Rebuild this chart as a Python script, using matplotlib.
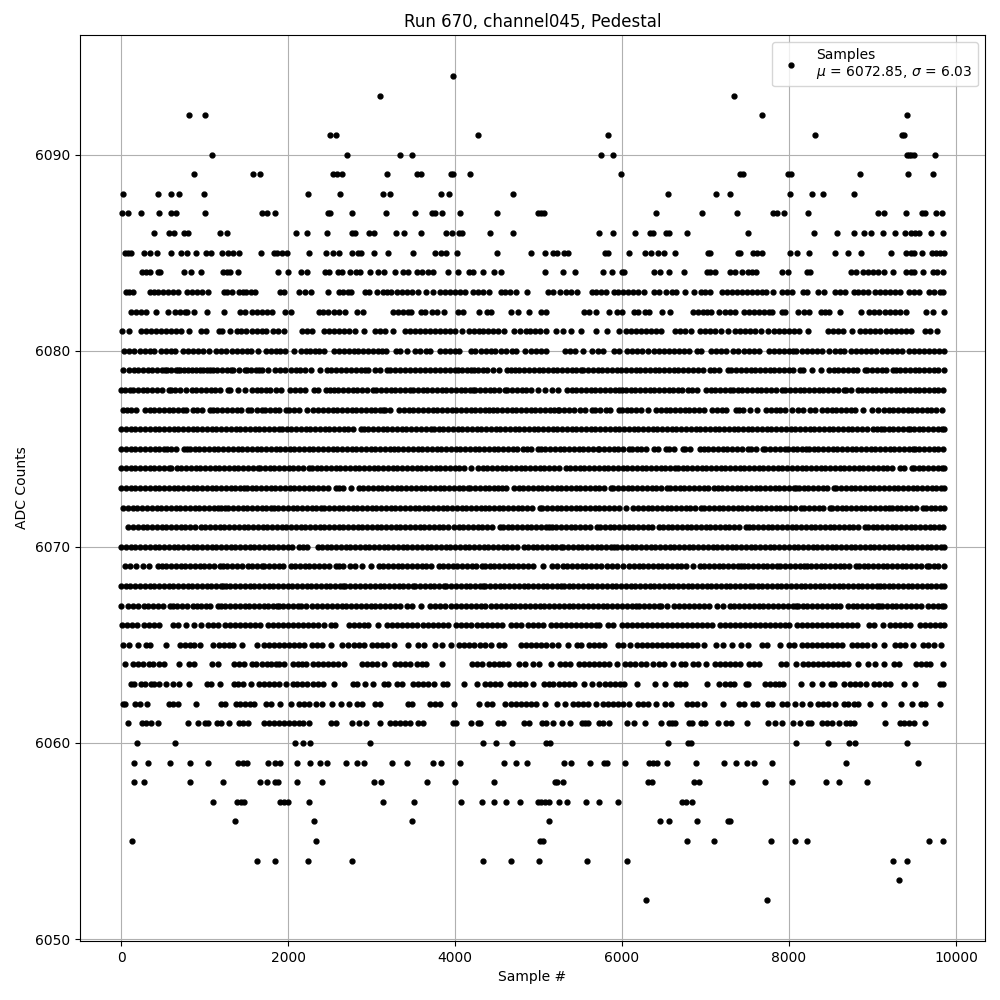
import matplotlib
matplotlib.use("Agg")
import matplotlib.pyplot as plt

title = "Run 670, channel045, Pedestal"
mean_counts = 6072.85
sigma_counts = 6.03

s6052 = [6288, 7740]
s6053 = [9312]
s6054 = [1628, 1844, 2240, 2768, 4340, 4664, 5004, 5580, 6060, 9240, 9408]
s6055 = [128, 2336, 5020, 5050, 6780, 7104, 7788, 8076, 8220, 9672, 9840]
s6056 = [1364, 2312, 3488, 5124, 6456, 6564, 6900, 7272, 7296]
s6057 = [1100, 1388, 1436, 1468, 1904, 1952, 2000, 2252, 3140, 3512, 4076, 4328, 4472, 4616, 4772, 4988, 5028, 5080, 5124, 5244, 5340, 5568, 5724, 5952, 6720, 6768, 6840]
s6058 = [152, 272, 824, 1220, 1664, 1748, 1844, 1880, 2108, 2408, 3032, 3116, 3668, 4004, 4472, 5196, 5220, 5292, 6312, 6360, 6864, 6924, 7716, 8040, 8448, 8604, 8940]
s6059 = [152, 320, 584, 824, 1040, 1400, 1460, 1512, 1760, 1840, 1904, 2108, 2264, 2384, 2468, 2696, 2828, 2912, 3248, 3428, 3740, 3836, 4064, 4592, 4724, 4856, 5304, 5388, 5616, 5784, 5820, 6036, 6324, 6372, 6420, 6540, 6888, 7224, 7368, 7500, 7584, 7800, 8688, 9540]
s6060 = [188, 644, 2084, 2180, 2264, 2984, 4340, 4496, 4676, 5092, 5140, 6552, 6792, 6828, 8088, 8472, 8724, 8796, 9408]
s6061 = [80, 248, 300, 360, 440, 800, 920, 1004, 1040, 1148, 1200, 1292, 1412, 1460, 1520, 1712, 1772, 1832, 1892, 1952, 2012, 2072, 2132, 2180, 2252, 2516, 2576, 2760, 2852, 2936, 3104, 3224, 3284, 3344, 3404, 3464, 3560, 3620, 3980, 4016, 4196, 4280, 4304, 4520, 4580, 4820, 4880, 5036, 5084, 5172, 5280, 5376, 5520, 5560, 5592, 5724, 5772, 5844, 6060, 6144, 6276, 6468, 6564, 6600, 6636, 6804, 6840, 6948, 6996, 7152, 7248, 7308, 7500, 7752, 7836, 7920, 8052, 8136, 8232, 8268, 8400, 8460, 8520, 8604, 8688, 8736, 8784, 9144, 9324, 9372, 9432, 9492, 9632]
s6062 = [20, 52, 172, 228, 308, 572, 620, 680, 896, 1196, 1244, 1376, 1424, 1484, 1544, 1592, 1736, 1796, 1904, 2036, 2132, 2192, 2252, 2336, 2408, 2528, 2636, 2732, 2828, 2888, 3044, 3104, 3440, 3488, 3704, 3764, 3824, 3992, 4292, 4388, 4448, 4604, 4664, 4724, 4784, 4844, 4904, 4964, 5076, 5220, 5316, 5412, 5472, 5532, 5592, 5688, 5772, 5832, 5892, 5952, 6012, 6084, 6192, 6252, 6312, 6408, 6516, 6588, 6780, 6840, 6900, 6984, 7212, 7404, 7464, 7572, 7620, 7752, 7800, 7920, 7980, 8072, 8160, 8256, 8352, 8412, 8472, 8556, 8664, 8712, 8784, 8832, 8976, 9132, 9336, 9468, 9576, 9624, 9804]
s6063 = [120, 160, 240, 288, 360, 392, 452, 536, 620, 692, 812, 1028, 1076, 1184, 1352, 1400, 1460, 1556, 1652, 1712, 1772, 1832, 1892, 1976, 2060, 2108, 2168, 2228, 2300, 2360, 2420, 2552, 2780, 2828, 2924, 3020, 3152, 3200, 3308, 3368, 3500, 3560, 3620, 3680, 3752, 3860, 3908, 4112, 4268, 4364, 4424, 4484, 4544, 4652, 4712, 4772, 4832, 4928, 5060, 5120, 5172, 5244, 5304, 5364, 5424, 5544, 5640, 5724, 5796, 5856, 5916, 5976, 6024, 6184, 6396, 6516, 6648, 6696, 6756, 7020, 7164, 7236, 7296, 7344, 7488, 7512, 7716, 7776, 7836, 7884, 7932, 8148, 8280, 8400, 8508, 8544, 8664, 8736, 8796, 8856, 8928, 9024, 9084, 9144, 9204, 9372, 9504, 9804, 9850]
s6064 = [52, 140, 200, 260, 332, 380, 452, 512, 692, 812, 872, 1088, 1160, 1352, 1412, 1472, 1568, 1616, 1688, 1748, 1796, 1856, 1892, 1952, 2060, 2120, 2168, 2216, 2300, 2360, 2420, 2480, 2540, 2600, 2672, 2888, 2948, 3008, 3068, 3152, 3284, 3344, 3404, 3464, 3548, 3608, 3656, 3848, 4208, 4268, 4328, 4412, 4472, 4532, 4580, 4640, 4760, 4832, 4928, 5000, 5152, 5260, 5320, 5380, 5484, 5544, 5604, 5664, 5724, 5784, 5844, 5940, 6036, 6096, 6156, 6228, 6288, 6372, 6444, 6504, 6612, 6708, 6756, 6852, 6912, 7008, 7116, 7176, 7236, 7296, 7356, 7416, 7524, 7580, 7644, 7908, 7968, 8088, 8172, 8232, 8292, 8352, 8412, 8472, 8532, 8592, 8652, 8712, 8832, 8952, 9036, 9132, 9252, 9312, 9516, 9576, 9636, 9692, 9840]
s6065 = [28, 92, 200, 292, 340, 536, 704, 760, 820, 868, 940, 1100, 1172, 1232, 1292, 1340, 1448, 1628, 1712, 1772, 1832, 1892, 1952, 2012, 2072, 2132, 2192, 2284, 2348, 2408, 2516, 2648, 2720, 2792, 2852, 2912, 3008, 3068, 3128, 3188, 3272, 3440, 3560, 3632, 3764, 3848, 3956, 4052, 4112, 4172, 4232, 4304, 4364, 4436, 4532, 4592, 4788, 4848, 4908, 4968, 5028, 5088, 5160, 5232, 5352, 5460, 5508, 5604, 5664, 5724, 5784, 5952, 6012, 6096, 6180, 6240, 6300, 6360, 6420, 6480, 6540, 6600, 6660, 6720, 6780, 6840, 6900, 6984, 7128, 7212, 7320, 7428, 7512, 7680, 7740, 7896, 8004, 8064, 8160, 8220, 8280, 8340, 8400, 8460, 8520, 8580, 8640, 8760, 8820, 8880, 8940, 9024, 9132, 9264, 9324, 9384, 9480, 9600, 9660, 9732, 9824]
s6066 = [12, 72, 128, 188, 272, 332, 392, 452, 620, 680, 780, 872, 956, 1040, 1100, 1160, 1244, 1304, 1364, 1424, 1484, 1544, 1604, 1664, 1760, 1820, 1880, 1940, 2000, 2060, 2120, 2180, 2240, 2300, 2360, 2432, 2516, 2564, 2732, 2792, 2852, 2912, 2960, 3080, 3188, 3248, 3308, 3368, 3428, 3488, 3548, 3620, 3680, 3740, 3800, 3860, 3920, 4016, 4076, 4136, 4196, 4268, 4328, 4388, 4448, 4508, 4568, 4664, 4724, 4784, 4868, 4928, 4988, 5048, 5152, 5212, 5272, 5332, 5392, 5452, 5512, 5572, 5632, 5692, 5724, 5832, 5892, 6000, 6060, 6120, 6180, 6240, 6300, 6360, 6420, 6480, 6540, 6600, 6660, 6720, 6780, 6840, 6900, 6960, 7020, 7080, 7176, 7236, 7296, 7356, 7416, 7476, 7536, 7596, 7656, 7716, 7776, 7836, 7896, 7956, 8004, 8092, 8152, 8212, 8272, 8332, 8392, 8452, 8512, 8572, 8632, 8692, 8752, 8820, 8964, 9024, 9120, 9204, 9264, 9324, 9384, 9444, 9564, 9624, 9684, 9744, 9804, 9852]
s6067 = [0, 84, 140, 204, 276, 324, 380, 436, 496, 584, 616, 672, 728, 790, 864, 904, 960, 1012, 1070, 1156, 1192, 1250, 1306, 1362, 1420, 1478, 1534, 1592, 1648, 1706, 1762, 1820, 1864, 1888, 1944, 2002, 2060, 2118, 2156, 2220, 2292, 2350, 2408, 2466, 2524, 2582, 2640, 2698, 2756, 2814, 2872, 2930, 2988, 3046, 3104, 3162, 3220, 3278, 3344, 3424, 3482, 3596, 3704, 3762, 3820, 3878, 3956, 4016, 4074, 4132, 4190, 4248, 4316, 4360, 4432, 4490, 4548, 4606, 4664, 4722, 4780, 4838, 4896, 4954, 5012, 5070, 5128, 5186, 5244, 5302, 5360, 5418, 5476, 5534, 5592, 5650, 5708, 5766, 5824, 5882, 5940, 5998, 6056, 6114, 6168, 6208, 6266, 6324, 6382, 6440, 6472, 6540, 6628, 6686, 6744, 6802, 6860, 6918, 6976, 7044, 7132, 7204, 7288, 7346, 7404, 7462, 7520, 7578, 7636, 7694, 7752, 7810, 7868, 7926, 7984, 8042, 8080, 8104, 8162, 8220, 8278, 8336, 8394, 8452, 8510, 8568, 8608, 8704, 8762, 8820, 8878, 8936, 8994, 9052, 9080, 9112, 9170, 9228, 9286, 9344, 9402, 9460, 9518, 9576, 9664, 9722, 9780, 9838, 9855]
s6068 = [0, 56, 112, 170, 226, 284, 340, 398, 454, 512, 568, 626, 682, 740, 796, 854, 910, 968, 1024, 1082, 1138, 1196, 1226, 1252, 1310, 1366, 1424, 1480, 1538, 1594, 1652, 1708, 1766, 1822, 1880, 1936, 1994, 2050, 2108, 2164, 2222, 2278, 2336, 2392, 2450, 2506, 2564, 2620, 2656, 2684, 2742, 2798, 2864, 2924, 2982, 3038, 3096, 3152, 3210, 3266, 3324, 3380, 3438, 3496, 3524, 3582, 3638, 3696, 3752, 3810, 3866, 3896, 3956, 4014, 4070, 4128, 4184, 4242, 4298, 4336, 4364, 4422, 4478, 4536, 4592, 4650, 4706, 4764, 4820, 4878, 4934, 4992, 5048, 5106, 5162, 5220, 5268, 5304, 5360, 5418, 5474, 5532, 5588, 5646, 5702, 5760, 5816, 5874, 5930, 5988, 6044, 6102, 6158, 6216, 6272, 6330, 6386, 6444, 6500, 6558, 6614, 6672, 6728, 6786, 6842, 6900, 6956, 7014, 7070, 7128, 7184, 7242, 7298, 7356, 7412, 7470, 7528, 7568, 7626, 7682, 7740, 7796, 7854, 7910, 7968, 8024, 8082, 8138, 8196, 8252, 8310, 8366, 8424, 8480, 8538, 8594, 8652, 8708, 8766, 8822, 8880, 8936, 8994, 9050, 9096, 9136, 9194, 9250, 9308, 9364, 9422, 9478, 9536, 9592, 9650, 9706, 9764, 9820, 9855]
s6069 = [44, 112, 184, 264, 330, 436, 484, 542, 598, 656, 712, 770, 826, 884, 940, 998, 1054, 1112, 1184, 1216, 1274, 1330, 1388, 1444, 1516, 1564, 1628, 1688, 1716, 1774, 1830, 1888, 1944, 2036, 2084, 2142, 2198, 2256, 2312, 2370, 2426, 2484, 2568, 2604, 2662, 2736, 2800, 2884, 2996, 3084, 3142, 3198, 3256, 3312, 3370, 3426, 3484, 3540, 3598, 3654, 3712, 3808, 3856, 3914, 3970, 4028, 4084, 4142, 4198, 4256, 4328, 4356, 4414, 4470, 4528, 4584, 4642, 4698, 4756, 4812, 4876, 4932, 5056, 5156, 5220, 5288, 5344, 5402, 5458, 5516, 5572, 5630, 5686, 5752, 5824, 5882, 5940, 6016, 6084, 6142, 6198, 6256, 6312, 6370, 6426, 6484, 6540, 6598, 6654, 6712, 6768, 6848, 6928, 6986, 7042, 7100, 7156, 7214, 7270, 7328, 7384, 7420, 7456, 7514, 7570, 7628, 7684, 7742, 7798, 7856, 7896, 7956, 8014, 8070, 8128, 8184, 8220, 8264, 8322, 8378, 8436, 8492, 8550, 8606, 8664, 8720, 8800, 8836, 8894, 8950, 9008, 9064, 9122, 9178, 9236, 9292, 9350, 9406, 9464, 9520, 9578, 9648, 9676, 9734, 9790, 9852]
s6070 = [0, 58, 114, 172, 228, 286, 342, 400, 456, 514, 570, 628, 684, 742, 798, 856, 912, 970, 1026, 1084, 1140, 1198, 1254, 1312, 1368, 1426, 1482, 1540, 1596, 1654, 1710, 1768, 1824, 1882, 1938, 1996, 2052, 2136, 2176, 2232, 2364, 2404, 2462, 2518, 2576, 2632, 2690, 2746, 2804, 2860, 2918, 2974, 3032, 3088, 3146, 3202, 3260, 3316, 3374, 3430, 3488, 3544, 3602, 3658, 3716, 3772, 3830, 3886, 3944, 4000, 4058, 4114, 4172, 4228, 4286, 4342, 4400, 4456, 4514, 4570, 4628, 4684, 4742, 4824, 4872, 4930, 4986, 5044, 5100, 5158, 5214, 5268, 5296, 5354, 5410, 5468, 5524, 5582, 5638, 5696, 5752, 5810, 5866, 5908, 5944, 6002, 6058, 6116, 6172, 6230, 6286, 6344, 6400, 6458, 6514, 6572, 6628, 6686, 6742, 6800, 6856, 6914, 6970, 7028, 7084, 7142, 7198, 7256, 7312, 7370, 7426, 7484, 7540, 7598, 7654, 7712, 7768, 7826, 7882, 7940, 7996, 8054, 8110, 8168, 8224, 8282, 8338, 8396, 8452, 8510, 8566, 8624, 8680, 8738, 8794, 8852, 8908, 8966, 9022, 9080, 9136, 9194, 9250, 9308, 9364, 9422, 9478, 9536, 9592, 9650, 9706, 9764, 9820, 9855]
s6071 = [84, 142, 198, 256, 312, 370, 426, 484, 540, 598, 654, 712, 768, 826, 888, 952, 1010, 1066, 1124, 1180, 1238, 1294, 1352, 1408, 1466, 1522, 1580, 1636, 1694, 1750, 1808, 1864, 1922, 1978, 2036, 2092, 2150, 2206, 2264, 2320, 2378, 2434, 2492, 2548, 2606, 2662, 2720, 2776, 2834, 2890, 2948, 3004, 3062, 3118, 3176, 3232, 3290, 3346, 3404, 3460, 3518, 3574, 3632, 3688, 3746, 3802, 3860, 3916, 3984, 4042, 4098, 4156, 4212, 4270, 4326, 4384, 4440, 4536, 4572, 4630, 4686, 4744, 4800, 4858, 4914, 4972, 5028, 5086, 5128, 5156, 5214, 5270, 5328, 5384, 5442, 5498, 5556, 5612, 5696, 5736, 5794, 5850, 5908, 5964, 6022, 6078, 6136, 6192, 6250, 6306, 6364, 6440, 6488, 6546, 6602, 6660, 6716, 6774, 6830, 6888, 6944, 7002, 7058, 7116, 7172, 7230, 7286, 7344, 7400, 7480, 7516, 7574, 7630, 7688, 7744, 7802, 7858, 7916, 7972, 8030, 8086, 8144, 8200, 8258, 8314, 8372, 8428, 8486, 8542, 8600, 8656, 8714, 8770, 8828, 8908, 8944, 9002, 9058, 9116, 9172, 9230, 9286, 9344, 9400, 9458, 9514, 9572, 9628, 9686, 9742, 9800, 9850]
s6072 = [24, 82, 138, 196, 252, 310, 366, 424, 480, 538, 594, 652, 708, 766, 822, 880, 936, 994, 1050, 1108, 1164, 1196, 1240, 1284, 1342, 1398, 1456, 1512, 1570, 1626, 1684, 1740, 1798, 1836, 1884, 1942, 1998, 2056, 2112, 2170, 2226, 2284, 2340, 2396, 2432, 2490, 2546, 2604, 2660, 2716, 2772, 2830, 2886, 2944, 3000, 3058, 3114, 3172, 3228, 3286, 3342, 3400, 3456, 3516, 3564, 3622, 3678, 3736, 3792, 3850, 3906, 3964, 4020, 4078, 4134, 4192, 4248, 4306, 4362, 4408, 4464, 4522, 4578, 4636, 4692, 4750, 4806, 4864, 4920, 5016, 5044, 5102, 5158, 5216, 5272, 5330, 5386, 5444, 5500, 5558, 5614, 5672, 5728, 5786, 5842, 5900, 5968, 6052, 6136, 6194, 6250, 6308, 6364, 6422, 6478, 6536, 6592, 6650, 6706, 6764, 6820, 6878, 6948, 6984, 7042, 7098, 7156, 7212, 7270, 7326, 7384, 7440, 7498, 7554, 7612, 7668, 7726, 7782, 7840, 7896, 7954, 8010, 8068, 8148, 8184, 8242, 8298, 8356, 8412, 8488, 8516, 8574, 8630, 8688, 8744, 8802, 8858, 8916, 8972, 9030, 9086, 9144, 9200, 9232, 9290, 9346, 9404, 9460, 9518, 9608, 9640, 9698, 9754, 9812, 9855]
s6073 = [0, 58, 114, 172, 228, 286, 342, 400, 456, 514, 570, 628, 684, 742, 798, 856, 912, 970, 1026, 1084, 1140, 1198, 1254, 1312, 1368, 1426, 1476, 1504, 1562, 1618, 1676, 1732, 1790, 1846, 1904, 1960, 2018, 2074, 2132, 2188, 2246, 2302, 2360, 2416, 2474, 2576, 2604, 2662, 2756, 2844, 2902, 2958, 3016, 3072, 3130, 3186, 3244, 3300, 3358, 3414, 3472, 3528, 3586, 3642, 3700, 3756, 3814, 3870, 3928, 3984, 4042, 4098, 4156, 4184, 4242, 4298, 4356, 4412, 4470, 4516, 4564, 4616, 4704, 4762, 4818, 4876, 4932, 4990, 5046, 5104, 5160, 5218, 5274, 5332, 5388, 5446, 5502, 5560, 5616, 5674, 5730, 5788, 5868, 5896, 5954, 6010, 6068, 6124, 6182, 6240, 6296, 6354, 6410, 6468, 6536, 6576, 6634, 6690, 6748, 6804, 6862, 6918, 6976, 7032, 7096, 7144, 7202, 7258, 7316, 7372, 7430, 7486, 7544, 7600, 7658, 7714, 7772, 7828, 7886, 7942, 8000, 8056, 8088, 8116, 8174, 8230, 8288, 8344, 8402, 8458, 8536, 8568, 8626, 8682, 8740, 8796, 8854, 8910, 8968, 9024, 9082, 9138, 9196, 9252, 9310, 9366, 9424, 9480, 9538, 9594, 9652, 9708, 9766, 9822, 9855]
s6074 = [0, 56, 114, 170, 228, 284, 342, 398, 456, 512, 576, 600, 664, 720, 778, 834, 892, 948, 1006, 1062, 1120, 1176, 1234, 1290, 1348, 1404, 1462, 1518, 1576, 1636, 1664, 1722, 1778, 1836, 1892, 1950, 2006, 2064, 2120, 2178, 2256, 2284, 2342, 2398, 2456, 2512, 2570, 2626, 2684, 2740, 2798, 2854, 2912, 2968, 3026, 3082, 3140, 3196, 3254, 3310, 3368, 3424, 3482, 3538, 3596, 3652, 3710, 3766, 3824, 3880, 3938, 3994, 4052, 4108, 4196, 4272, 4330, 4386, 4444, 4500, 4558, 4614, 4672, 4728, 4786, 4842, 4900, 4956, 5014, 5070, 5128, 5184, 5242, 5328, 5380, 5436, 5494, 5550, 5608, 5664, 5722, 5778, 5836, 5892, 5950, 6006, 6064, 6120, 6178, 6234, 6292, 6348, 6406, 6462, 6520, 6576, 6636, 6668, 6726, 6782, 6840, 6896, 6954, 7010, 7068, 7124, 7182, 7238, 7296, 7352, 7410, 7466, 7524, 7580, 7638, 7694, 7752, 7808, 7866, 7922, 7980, 8036, 8094, 8150, 8208, 8264, 8322, 8378, 8436, 8492, 8550, 8606, 8664, 8720, 8778, 8834, 8892, 8948, 9006, 9062, 9120, 9176, 9234, 9328, 9376, 9468, 9496, 9554, 9610, 9668, 9724, 9782, 9838, 9855]
s6075 = [0, 58, 114, 172, 228, 286, 342, 400, 456, 516, 544, 602, 656, 756, 788, 824, 882, 938, 996, 1052, 1110, 1166, 1224, 1280, 1338, 1394, 1452, 1508, 1566, 1622, 1680, 1736, 1794, 1856, 1904, 1962, 2018, 2076, 2132, 2190, 2246, 2304, 2360, 2418, 2474, 2532, 2588, 2646, 2702, 2760, 2816, 2874, 2930, 2988, 3044, 3102, 3158, 3216, 3264, 3322, 3378, 3436, 3492, 3550, 3606, 3664, 3720, 3778, 3834, 3892, 3948, 4006, 4062, 4116, 4176, 4234, 4290, 4348, 4404, 4462, 4518, 4576, 4632, 4690, 4746, 4816, 4856, 4914, 4988, 5024, 5082, 5138, 5196, 5252, 5310, 5366, 5424, 5480, 5538, 5594, 5652, 5708, 5728, 5786, 5842, 5900, 5956, 6014, 6080, 6116, 6174, 6230, 6288, 6388, 6436, 6528, 6568, 6626, 6728, 6756, 6814, 6928, 6976, 7034, 7090, 7148, 7204, 7262, 7318, 7376, 7432, 7508, 7544, 7602, 7688, 7716, 7774, 7830, 7888, 7948, 7984, 8042, 8098, 8156, 8208, 8236, 8294, 8350, 8408, 8464, 8522, 8578, 8636, 8692, 8750, 8806, 8864, 8920, 8978, 9034, 9092, 9148, 9206, 9262, 9320, 9376, 9434, 9480, 9504, 9562, 9618, 9676, 9732, 9790, 9846]
s6076 = [0, 58, 116, 172, 230, 286, 344, 400, 458, 514, 572, 628, 686, 742, 800, 856, 914, 970, 1028, 1084, 1142, 1198, 1256, 1312, 1370, 1426, 1484, 1540, 1598, 1654, 1712, 1768, 1826, 1896, 1924, 1982, 2038, 2096, 2152, 2210, 2266, 2324, 2380, 2438, 2494, 2552, 2608, 2666, 2722, 2780, 2876, 2904, 2962, 3018, 3076, 3132, 3190, 3246, 3304, 3360, 3418, 3474, 3532, 3588, 3646, 3716, 3744, 3802, 3858, 3916, 3972, 4030, 4086, 4144, 4200, 4258, 4314, 4372, 4428, 4486, 4542, 4600, 4656, 4714, 4770, 4828, 4884, 4942, 4998, 5056, 5112, 5170, 5226, 5284, 5340, 5398, 5454, 5512, 5568, 5626, 5682, 5740, 5796, 5854, 5910, 5968, 6024, 6082, 6138, 6196, 6252, 6310, 6366, 6424, 6480, 6538, 6594, 6652, 6708, 6766, 6822, 6880, 6936, 6994, 7050, 7108, 7164, 7222, 7278, 7336, 7388, 7448, 7506, 7562, 7620, 7676, 7734, 7790, 7848, 7904, 7962, 8018, 8076, 8132, 8190, 8246, 8304, 8360, 8418, 8474, 8532, 8588, 8646, 8702, 8760, 8816, 8874, 8930, 9008, 9052, 9100, 9136, 9194, 9250, 9308, 9364, 9422, 9448, 9496, 9554, 9610, 9668, 9724, 9782, 9838, 9855]
s6077 = [20, 72, 116, 180, 284, 340, 398, 454, 512, 568, 626, 682, 736, 780, 856, 912, 970, 1064, 1096, 1154, 1210, 1268, 1324, 1382, 1438, 1516, 1560, 1624, 1688, 1724, 1782, 1838, 1896, 1976, 2016, 2074, 2130, 2224, 2304, 2362, 2418, 2476, 2532, 2590, 2646, 2704, 2760, 2818, 2874, 2932, 2988, 3046, 3102, 3136, 3164, 3222, 3328, 3388, 3444, 3502, 3558, 3616, 3672, 3730, 3786, 3844, 3900, 3958, 4014, 4072, 4128, 4186, 4242, 4300, 4356, 4408, 4460, 4504, 4562, 4618, 4676, 4732, 4790, 4846, 4904, 4960, 5018, 5074, 5132, 5188, 5228, 5248, 5306, 5362, 5420, 5496, 5556, 5640, 5676, 5734, 5808, 5856, 5960, 5996, 6054, 6110, 6168, 6224, 6308, 6408, 6466, 6522, 6580, 6636, 6694, 6750, 6808, 6864, 6922, 6978, 7080, 7136, 7194, 7250, 7368, 7396, 7454, 7528, 7616, 7728, 7784, 7842, 7898, 7956, 8040, 8104, 8162, 8256, 8316, 8396, 8454, 8510, 8568, 8624, 8682, 8738, 8796, 8888, 8992, 9072, 9136, 9194, 9250, 9308, 9364, 9422, 9478, 9536, 9592, 9650, 9706, 9764, 9828]
s6078 = [0, 52, 104, 144, 200, 258, 314, 372, 428, 486, 576, 596, 650, 704, 780, 844, 902, 958, 1016, 1072, 1130, 1186, 1276, 1304, 1396, 1480, 1564, 1622, 1680, 1736, 1784, 1856, 1912, 2024, 2080, 2144, 2202, 2316, 2364, 2456, 2500, 2544, 2602, 2658, 2716, 2772, 2830, 2886, 2944, 3016, 3056, 3114, 3170, 3228, 3284, 3342, 3398, 3456, 3496, 3554, 3610, 3668, 3724, 3782, 3838, 3896, 3952, 4010, 4066, 4124, 4180, 4216, 4244, 4302, 4358, 4416, 4472, 4530, 4596, 4624, 4682, 4738, 4796, 4852, 4910, 4996, 5076, 5164, 5230, 5336, 5396, 5454, 5510, 5568, 5624, 5682, 5738, 5796, 5852, 5910, 5968, 6000, 6044, 6102, 6158, 6216, 6272, 6330, 6386, 6444, 6500, 6558, 6614, 6668, 6716, 6788, 6840, 6892, 7004, 7062, 7118, 7176, 7232, 7288, 7328, 7386, 7442, 7500, 7556, 7614, 7670, 7728, 7784, 7842, 7916, 7956, 8014, 8070, 8128, 8184, 8242, 8298, 8356, 8412, 8470, 8526, 8584, 8656, 8688, 8746, 8828, 8876, 8934, 8990, 9048, 9104, 9162, 9218, 9276, 9332, 9390, 9446, 9504, 9560, 9618, 9674, 9732, 9788, 9846]
s6079 = [28, 92, 150, 205, 262, 318, 375, 430, 490, 520, 545, 600, 660, 680, 705, 755, 800, 845, 895, 940, 985, 1030, 1060, 1095, 1150, 1210, 1265, 1312, 1345, 1410, 1480, 1505, 1560, 1610, 1652, 1688, 1765, 1845, 1905, 1965, 2030, 2100, 2145, 2205, 2280, 2385, 2470, 2510, 2570, 2630, 2690, 2750, 2810, 2870, 2920, 2955, 3045, 3105, 3185, 3225, 3285, 3345, 3405, 3465, 3525, 3585, 3645, 3705, 3765, 3825, 3885, 3945, 4000, 4030, 4085, 4140, 4188, 4225, 4280, 4335, 4385, 4460, 4530, 4625, 4670, 4720, 4765, 4825, 4885, 4945, 5005, 5056, 5112, 5170, 5226, 5284, 5340, 5398, 5454, 5508, 5536, 5594, 5650, 5708, 5764, 5822, 5878, 5936, 5992, 6050, 6106, 6164, 6220, 6278, 6334, 6392, 6448, 6506, 6562, 6620, 6676, 6734, 6790, 6848, 6904, 6968, 7048, 7106, 7162, 7268, 7308, 7368, 7426, 7482, 7540, 7596, 7654, 7710, 7768, 7824, 7882, 7938, 7996, 8052, 8128, 8172, 8276, 8388, 8476, 8534, 8590, 8648, 8704, 8762, 8818, 8908, 8936, 8994, 9050, 9108, 9164, 9248, 9276, 9334, 9390, 9448, 9504, 9562, 9618, 9676, 9732, 9790, 9852]
s6080 = [40, 100, 160, 220, 280, 340, 392, 472, 532, 592, 640, 740, 800, 860, 920, 980, 1052, 1136, 1196, 1256, 1328, 1388, 1448, 1508, 1556, 1640, 1736, 1796, 1856, 1904, 1964, 2072, 2156, 2216, 2264, 2324, 2372, 2432, 2552, 2612, 2672, 2732, 2792, 2840, 2900, 2960, 3020, 3080, 3128, 3176, 3296, 3344, 3428, 3524, 3584, 3656, 3704, 3824, 3884, 3944, 4004, 4052, 4196, 4244, 4316, 4376, 4436, 4484, 4556, 4616, 4676, 4724, 4832, 4904, 4964, 5024, 5084, 5316, 5376, 5436, 5532, 5640, 5712, 5772, 5904, 5964, 6060, 6120, 6180, 6240, 6312, 6384, 6444, 6504, 6564, 6624, 6684, 6744, 6804, 6892, 6940, 7068, 7128, 7188, 7248, 7332, 7392, 7464, 7524, 7584, 7644, 7764, 7824, 7884, 7944, 8004, 8052, 8088, 8160, 8220, 8280, 8340, 8400, 8484, 8556, 8616, 8664, 8748, 8808, 8868, 8928, 8988, 9048, 9108, 9168, 9228, 9288, 9348, 9432, 9492, 9552, 9612, 9672, 9732, 9792, 9852]
s6081 = [8, 100, 232, 300, 360, 420, 480, 540, 600, 660, 720, 812, 952, 1012, 1172, 1208, 1304, 1388, 1440, 1500, 1568, 1628, 1688, 1736, 1820, 1880, 1952, 2168, 2228, 2288, 2432, 2492, 2552, 2612, 2672, 2732, 2804, 2912, 3044, 3104, 3164, 3260, 3404, 3464, 3524, 3584, 3644, 3704, 3764, 3824, 3884, 3944, 4004, 4088, 4172, 4232, 4292, 4340, 4400, 4460, 4520, 4588, 4700, 4772, 4844, 4900, 4960, 5020, 5092, 5204, 5292, 5388, 5508, 5688, 5820, 5964, 6048, 6108, 6168, 6228, 6288, 6348, 6408, 6468, 6636, 6696, 6756, 6832, 6936, 6996, 7056, 7116, 7188, 7272, 7356, 7416, 7476, 7536, 7596, 7668, 7752, 7824, 7884, 7944, 8004, 8064, 8124, 8232, 8472, 8532, 8592, 8652, 8760, 8856, 8916, 8976, 9036, 9096, 9156, 9216, 9276, 9336, 9396, 9456, 9624, 9684, 9768]
s6082 = [120, 180, 240, 292, 416, 560, 640, 700, 760, 788, 872, 1028, 1232, 1420, 1488, 1568, 1628, 1688, 1748, 1812, 1964, 2036, 2372, 2420, 2480, 2552, 2612, 2676, 2828, 2900, 3260, 3320, 3380, 3440, 3476, 3596, 3644, 3728, 3788, 3872, 4040, 4100, 4284, 4388, 4436, 4664, 4748, 4880, 5024, 5084, 5544, 5600, 5688, 5844, 5940, 6000, 6144, 6192, 6276, 6324, 6480, 6576, 6852, 6912, 6972, 7020, 7068, 7164, 7236, 7296, 7356, 7464, 7524, 7584, 7644, 7704, 7764, 7800, 7920, 7956, 8112, 8184, 8244, 8388, 8436, 8484, 8616, 8868, 8964, 9024, 9084, 9144, 9204, 9264, 9324, 9396, 9636, 9720, 9852]
s6083 = [60, 100, 140, 344, 392, 440, 500, 560, 620, 680, 788, 848, 908, 968, 1040, 1232, 1268, 1328, 1412, 1460, 1500, 1556, 1604, 1904, 1952, 2132, 2204, 2276, 2480, 2612, 2660, 2720, 2756, 2924, 2972, 3068, 3140, 3188, 3236, 3308, 3360, 3420, 3480, 3560, 3656, 3740, 3820, 3880, 3940, 4000, 4060, 4120, 4220, 4280, 4340, 4412, 4556, 4604, 4660, 4724, 4856, 5112, 5172, 5260, 5324, 5392, 5460, 5640, 5692, 5744, 5808, 5904, 5952, 6012, 6072, 6132, 6192, 6264, 6384, 6444, 6528, 6600, 6648, 6756, 6864, 6948, 6996, 7056, 7200, 7252, 7312, 7372, 7432, 7492, 7552, 7612, 7672, 7720, 7812, 7912, 7972, 8032, 8172, 8220, 8352, 8424, 8556, 8616, 8676, 8784, 8832, 8892, 8952, 9032, 9092, 9152, 9212, 9272, 9324, 9432, 9492, 9552, 9672, 9732, 9804, 9840]
s6084 = [248, 296, 344, 440, 464, 752, 836, 956, 1220, 1268, 1304, 1400, 1880, 2000, 2156, 2228, 2444, 2492, 2600, 2648, 2744, 2816, 2864, 2984, 3080, 3152, 3284, 3380, 3440, 3540, 3600, 3680, 3740, 3920, 4040, 4172, 4220, 4336, 4472, 4556, 5072, 5292, 5436, 5772, 5880, 6000, 6024, 6384, 6456, 6564, 6744, 7020, 7056, 7116, 7296, 7356, 7440, 7512, 7560, 7608, 7920, 7992, 8220, 8256, 8748, 8808, 8892, 8952, 9012, 9072, 9132, 9240, 9396, 9456, 9492, 9600, 9720, 9768, 9840]
s6085 = [48, 80, 120, 272, 344, 428, 596, 716, 788, 896, 1016, 1076, 1208, 1280, 1340, 1412, 1676, 1832, 1868, 1928, 1988, 2252, 2456, 2540, 2612, 2768, 2840, 2876, 3028, 3200, 3500, 3764, 3836, 3896, 4028, 4508, 4912, 5076, 5172, 5220, 5304, 5352, 5796, 5832, 6084, 6276, 6348, 6432, 6504, 6636, 7032, 7056, 7392, 7416, 7572, 7620, 7680, 8016, 8100, 8244, 8556, 8712, 8868, 9216, 9396, 9456, 9492, 9588, 9708, 9756, 9804, 9852]
s6086 = [392, 572, 632, 752, 800, 1184, 1268, 2096, 2228, 2468, 2768, 2804, 2972, 3032, 3296, 3392, 3596, 3896, 3968, 4052, 4088, 4424, 4688, 5724, 5892, 6156, 6336, 6372, 6528, 6564, 6780, 7512, 8304, 8580, 8784, 8904, 8988, 9120, 9264, 9384, 9456, 9504, 9552, 9696, 9840]
s6087 = [8, 80, 236, 452, 596, 660, 1004, 1688, 1748, 1844, 2480, 2504, 2768, 3176, 3524, 3728, 3764, 3848, 4064, 4508, 4992, 5032, 5060, 6408, 6960, 7380, 7812, 7860, 7944, 8232, 9072, 9132, 9396, 9588, 9624, 9756, 9828]
s6088 = [20, 440, 596, 692, 992, 2240, 2624, 3140, 3224, 3836, 3932, 4688, 6552, 7128, 7296, 8016, 8280, 8412, 8784]
s6089 = [872, 1580, 1664, 2540, 2588, 2648, 3188, 3540, 3588, 3948, 3980, 4184, 5988, 7416, 7452, 7992, 8028, 8856, 9420, 9720]
s6090 = [1088, 2708, 3344, 3488, 5748, 5892, 9408, 9432, 9456, 9492, 9744]
s6091 = [2500, 2568, 4280, 5832, 8316, 9352, 9372]
s6092 = [812, 1004, 7680, 9408]
s6093 = [3104, 7344]
s6094 = [3980]

levels = [6052, 6053, 6054, 6055, 6056, 6057, 6058, 6059, 6060, 6061, 6062, 6063, 6064,
          6065, 6066, 6067, 6068, 6069, 6070, 6071, 6072, 6073, 6074, 6075, 6076, 6077,
          6078, 6079, 6080, 6081, 6082, 6083, 6084, 6085, 6086, 6087, 6088, 6089, 6090,
          6091, 6092, 6093, 6094]
rows = [s6052, s6053, s6054, s6055, s6056, s6057, s6058, s6059, s6060, s6061, s6062, s6063, s6064,
        s6065, s6066, s6067, s6068, s6069, s6070, s6071, s6072, s6073, s6074, s6075, s6076, s6077,
        s6078, s6079, s6080, s6081, s6082, s6083, s6084, s6085, s6086, s6087, s6088, s6089, s6090,
        s6091, s6092, s6093, s6094]

xs = []
ys = []
for level, row in zip(levels, rows):
    xs.extend(row)
    ys.extend([level] * len(row))

fig, ax = plt.subplots(figsize=(10, 10), dpi=100)
ax.plot(xs, ys, "k.", markersize=7, label=f"Samples\n$\\mu$ = {mean_counts:.2f}, $\\sigma$ = {sigma_counts:.2f}")
ax.set_title(title)
ax.set_xlabel("Sample #")
ax.set_ylabel("ADC Counts")
ax.grid(True)
ax.legend(loc="upper right")
fig.subplots_adjust(left=0.080, right=0.985, top=0.965, bottom=0.059)
fig.savefig("out.png", dpi=100)
